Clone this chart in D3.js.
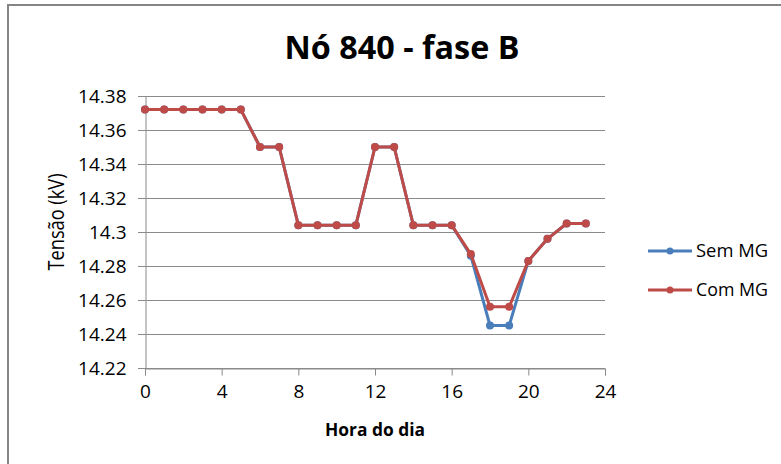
<!DOCTYPE html>
<html>
<head>
<meta charset="utf-8">
<script src="https://cdn.jsdelivr.net/npm/d3@7"></script>
<style>
  body { margin: 0; background: #fff; }
  text { font-family: "Open Sans", sans-serif; fill: #000; }
</style>
</head>
<body>
<svg id="chart" width="781" height="464"></svg>
<script>
// hours 0..23
let hours = d3.range(0, 24),
    semMG = [14.372,14.372,14.372,14.372,14.372,14.372,14.350,14.350,14.304,14.304,14.304,14.304,
             14.350,14.350,14.304,14.304,14.304,14.286,14.245,14.245,14.283,14.296,14.305,14.305],
    comMG = [14.372,14.372,14.372,14.372,14.372,14.372,14.350,14.350,14.304,14.304,14.304,14.304,
             14.350,14.350,14.304,14.304,14.304,14.287,14.256,14.256,14.283,14.296,14.305,14.305],
    yTicks = [14.22,14.24,14.26,14.28,14.3,14.32,14.34,14.36,14.38],
    yTickLabels = ["14.22","14.24","14.26","14.28","14.3","14.32","14.34","14.36","14.38"],
    xTicks = [0,4,8,12,16,20,24],
    seriesNames = ["Sem MG","Com MG"],
    colors = ["#4a7ebb","#be4b48"];

let svg = d3.select("#chart"),
    xScale = d3.scaleLinear().domain([0,24]).range([145,605]),
    yScale = d3.scaleLinear().domain([14.22,14.38]).range([368,96]);

// chart box border (cut by the page edge on right and bottom)
svg.append("path")
   .attr("d","M8,470 L8,5 L790,5")
   .attr("fill","none")
   .attr("stroke","#858585")
   .attr("stroke-width",2);

// gridlines
svg.append("g")
   .selectAll("line")
   .data(yTicks)
   .enter()
   .append("line")
   .attr("x1",138)
   .attr("x2",xScale(24))
   .attr("y1",d=>Math.round(yScale(d))+0.5)
   .attr("y2",d=>Math.round(yScale(d))+0.5)
   .attr("stroke","#8a8a8a")
   .attr("stroke-width",1);

// y axis labels
let yAxis = d3.axisLeft(yScale)
              .tickValues(yTicks)
              .tickFormat((d,i)=>yTickLabels[i])
              .tickSize(0)
              .tickPadding(19);
svg.append("g")
   .attr("transform","translate(145.5,0)")
   .call(yAxis)
   .call(g=>g.select(".domain").attr("stroke","#8a8a8a"))
   .selectAll("text")
   .style("font-size","19px")
   .attr("fill","#000");

// x axis
let xAxis = d3.axisBottom(xScale)
              .tickValues(xTicks)
              .tickSize(7)
              .tickPadding(9);
svg.append("g")
   .attr("transform","translate(0,368.5)")
   .call(xAxis)
   .call(g=>g.select(".domain").attr("stroke","#8a8a8a"))
   .call(g=>g.selectAll(".tick line").attr("stroke","#8a8a8a"))
   .selectAll("text")
   .style("font-size","19px")
   .attr("fill","#000");

// series
let line = d3.line().x((d,i)=>xScale(hours[i])).y(d=>yScale(d));
[semMG, comMG].forEach((vals,k)=>{
  let g = svg.append("g");
  g.append("path")
   .attr("d",line(vals))
   .attr("fill","none")
   .attr("stroke",colors[k])
   .attr("stroke-width",3)
   .attr("stroke-linejoin","round");
  g.selectAll("circle")
   .data(vals)
   .enter()
   .append("circle")
   .attr("cx",(d,i)=>xScale(hours[i]))
   .attr("cy",d=>yScale(d))
   .attr("r",4)
   .attr("fill",colors[k]);
});

// title
svg.append("text")
   .text("Nó 840 - fase B")
   .attr("x",402)
   .attr("y",59)
   .attr("text-anchor","middle")
   .attr("textLength",235)
   .attr("lengthAdjust","spacingAndGlyphs")
   .style("font-size","33px")
   .style("font-weight","bold");

// axis titles
svg.append("text")
   .text("Hora do dia")
   .attr("x",375)
   .attr("y",436)
   .attr("text-anchor","middle")
   .attr("textLength",100)
   .attr("lengthAdjust","spacingAndGlyphs")
   .style("font-size","17px")
   .style("font-weight","bold");

svg.append("text")
   .text("Tensão (kV)")
   .attr("transform","translate(64,222) rotate(-90)")
   .attr("text-anchor","middle")
   .attr("textLength",97)
   .attr("lengthAdjust","spacingAndGlyphs")
   .style("font-size","22px");

// legend
let legend = svg.append("g")
                .selectAll(".leg")
                .data(seriesNames)
                .enter()
                .append("g")
                .classed("leg",true)
                .attr("transform",(d,i)=>`translate(648,${251+i*39})`);
legend.append("line")
      .attr("x1",0).attr("x2",44)
      .attr("stroke",(d,i)=>colors[i])
      .attr("stroke-width",3);
legend.append("circle")
      .attr("cx",22)
      .attr("r",3.5)
      .attr("fill",(d,i)=>colors[i]);
legend.append("text")
      .text(d=>d)
      .attr("x",48)
      .attr("dy","0.35em")
      .attr("textLength",72)
      .attr("lengthAdjust","spacingAndGlyphs")
      .style("font-size","18px");
</script>
</body>
</html>
